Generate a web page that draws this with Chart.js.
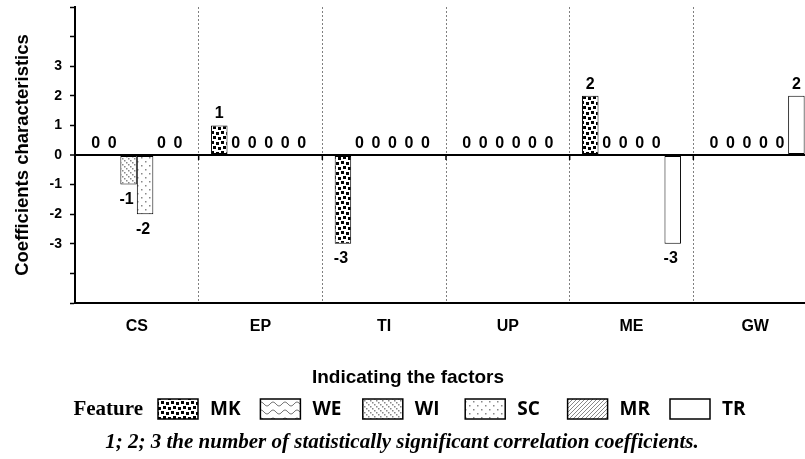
<!DOCTYPE html>
<html><head><meta charset="utf-8">
<script src="https://cdn.jsdelivr.net/npm/chart.js@4.4.0/dist/chart.umd.min.js"></script>
<style>
html,body{margin:0;padding:0;background:#fff;overflow:hidden;width:805px;height:459px}
#wrap{position:absolute;left:0;top:0;width:820px;height:459px}
</style>
</head><body>
<div id="wrap"><canvas id="c" width="820" height="459"></canvas></div>
<script>
// ---- data ----
const categories = ['CS', 'EP', 'TI', 'UP', 'ME', 'GW'];
const seriesNames = ['MK', 'WE', 'WI', 'SC', 'MR', 'TR'];
const MK = [0, 1, -3, 0, 2, 0];
const WE = [0, 0, 0, 0, 0, 0];
const WI = [-1, 0, 0, 0, 0, 0];
const SC = [-2, 0, 0, 0, 0, 0];
const MR = [0, 0, 0, 0, 0, 0];
const TR = [0, 0, 0, 0, -3, 2];
const yTickLabels = [-3, -2, -1, 0, 1, 2, 3];
const xTitle = 'Indicating the factors';
const yTitle = 'Coefficients characteristics';
const legendLead = 'Feature';
const footnote = '1; 2; 3 the number of statistically significant correlation coefficients.';

// ---- patterns ----
function makePattern(w, h, draw) {
  const c = document.createElement('canvas');
  c.width = w; c.height = h;
  const g = c.getContext('2d');
  g.fillStyle = '#fff'; g.fillRect(0, 0, w, h);
  draw(g);
  return g.createPattern(c, 'repeat');
}
const patMK = makePattern(10, 10, g => {
  g.fillStyle = '#000';
  g.fillRect(1, 1, 3, 3); g.fillRect(6, 2, 3, 3); g.fillRect(3, 6, 3, 3); g.fillRect(8, 7, 2, 3); g.fillRect(0, 7, 1, 3);
});
const patWE = makePattern(12, 8, g => {
  g.strokeStyle = '#777'; g.lineWidth = 1;
  g.beginPath();
  for (let x = 0; x <= 12; x++) {
    const y = 4 + 2 * Math.sin(x / 12 * Math.PI * 2);
    if (x === 0) g.moveTo(x, y); else g.lineTo(x, y);
  }
  g.stroke();
});
const patWI = makePattern(6, 6, g => {
  g.fillStyle = '#888';
  for (let i = 0; i < 6; i += 2) g.fillRect(i, i, 1.5, 1.5);
});
const patSC = makePattern(8, 8, g => {
  g.fillStyle = '#888';
  g.fillRect(1, 1, 1.5, 1.5); g.fillRect(5, 5, 1.5, 1.5);
});
const patMR = makePattern(4, 4, g => {
  g.strokeStyle = '#888'; g.lineWidth = 1;
  g.beginPath(); g.moveTo(0, 4); g.lineTo(4, 0); g.stroke();
});
const patTR = '#ffffff';
const patterns = [patMK, patWE, patWI, patSC, patMR, patTR];
const seriesValues = [MK, WE, WI, SC, MR, TR];

const SANS = '"Liberation Sans", Arial, sans-serif';
const SERIF = '"Liberation Serif", "Times New Roman", serif';

const extras = {
  id: 'extras',
  afterDatasetsDraw(chart) {
    const ctx = chart.ctx, xs = chart.scales.x, ys = chart.scales.y;
    const y0 = ys.getPixelForValue(0);
    ctx.save();
    ctx.strokeStyle = '#000'; ctx.lineWidth = 1.5;
    for (let i = 1; i < categories.length; i++) {
      const bx = (xs.getPixelForValue(i - 1) + xs.getPixelForValue(i)) / 2;
      ctx.beginPath(); ctx.moveTo(bx, y0); ctx.lineTo(bx, y0 + 5); ctx.stroke();
    }
    ctx.fillStyle = '#000';
    ctx.font = 'bold 16px ' + SANS;
    ctx.textAlign = 'center';
    chart.data.datasets.forEach((ds, di) => {
      const meta = chart.getDatasetMeta(di);
      meta.data.forEach((el, j) => {
        const v = ds.data[j];
        if (v < 0) { ctx.textBaseline = 'top'; ctx.fillText(String(v), el.x - 2, el.y + 7); }
        else { ctx.textBaseline = 'alphabetic'; ctx.fillText(String(v), el.x, el.y - 7); }
      });
    });
    ctx.restore();
  },
  afterDraw(chart) {
    const ctx = chart.ctx;
    ctx.save();
    ctx.fillStyle = '#000';
    ctx.textBaseline = 'middle';
    ctx.textAlign = 'center';
    ctx.font = 'bold 19px ' + SANS;
    ctx.fillText(xTitle, 408, 378);
    ctx.textAlign = 'right';
    ctx.font = 'bold 21px ' + SERIF;
    ctx.fillText(legendLead, 143, 410);
    chart.data.datasets.forEach((ds, i) => {
      const bx = 158 + i * 102.4, by = 399;
      ctx.fillStyle = '#fff'; ctx.fillRect(bx, by, 40, 20);
      ctx.fillStyle = ds.backgroundColor; ctx.fillRect(bx, by, 40, 20);
      ctx.strokeStyle = '#000'; ctx.lineWidth = 1.5; ctx.strokeRect(bx, by, 40, 20);
      ctx.fillStyle = '#000';
      ctx.textAlign = 'left';
      ctx.font = 'bold 19px "Open Sans", ' + SANS;
      ctx.fillText(ds.label, bx + 52, 410);
    });
    ctx.textAlign = 'center';
    ctx.font = 'italic bold 21px ' + SERIF;
    ctx.fillText(footnote, 402, 443);
    ctx.restore();
  }
};

new Chart(document.getElementById('c'), {
  type: 'bar',
  data: {
    labels: categories,
    datasets: seriesNames.map((n, i) => ({
      label: n,
      data: seriesValues[i],
      backgroundColor: patterns[i],
      borderColor: '#000',
      borderWidth: 1,
      borderSkipped: false,
      categoryPercentage: 0.8,
      barPercentage: 1
    }))
  },
  options: {
    responsive: false,
    animation: false,
    devicePixelRatio: 1,
    layout: { padding: { top: 7, left: 0, right: 3, bottom: 0 } },
    plugins: { legend: { display: false }, tooltip: { enabled: false } },
    scales: {
      x: {
        offset: true,
        grid: { display: true, offset: true, color: '#808080', lineWidth: 1, drawTicks: false },
        border: { display: true, color: '#000', width: 2, dash: [2, 2] },
        ticks: { color: '#000', font: { family: SANS, weight: 'bold', size: 16 }, padding: 14 },
        afterFit: s => { s.height = 156; s.paddingLeft = 0; s.paddingRight = 0; }
      },
      y: {
        min: -5, max: 5,
        ticks: {
          stepSize: 1,
          color: '#000',
          font: { family: SANS, weight: 'bold', size: 14 },
          padding: 8,
          callback: v => yTickLabels.includes(v) ? String(v) : ''
        },
        grid: {
          color: c => (c.tick && c.tick.value === 0) ? '#000' : 'rgba(0,0,0,0)',
          lineWidth: c => (c.tick && c.tick.value === 0) ? 2 : 1,
          tickColor: '#000', tickLength: 5, tickWidth: 1.5
        },
        border: { color: '#000', width: 2 },
        title: { display: true, text: yTitle, color: '#000', font: { family: SANS, weight: 'bold', size: 18.5 }, padding: { top: 12, bottom: 0 } },
        afterFit: s => { s.width = 75; s.paddingTop = 0; s.paddingBottom = 0; }
      }
    }
  },
  plugins: [extras]
});
</script>
</body></html>
